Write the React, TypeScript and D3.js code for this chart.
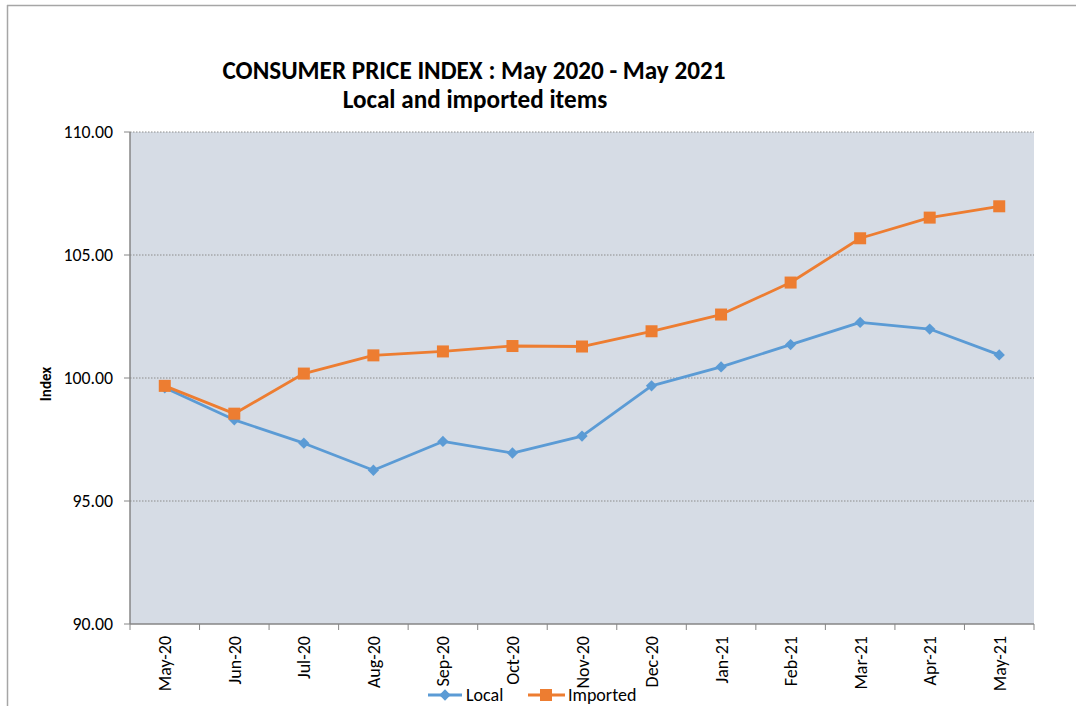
import React from "react";
import * as d3 from "d3";

const categories = ["May-20","Jun-20","Jul-20","Aug-20","Sep-20","Oct-20","Nov-20","Dec-20","Jan-21","Feb-21","Mar-21","Apr-21","May-21"];
const localValues = [99.6, 98.3, 97.35, 96.25, 97.42, 96.95, 97.64, 99.68, 100.45, 101.36, 102.26, 101.99, 100.94];
const importedValues = [99.68, 98.55, 100.18, 100.92, 101.08, 101.3, 101.28, 101.9, 102.58, 103.88, 105.68, 106.52, 106.98];
const yTicks = [90, 95, 100, 105, 110];
const titleLines = ["CONSUMER PRICE INDEX : May 2020 - May 2021", "Local and imported items"];

const W = 1076, H = 706;
const plot = { left: 130, right: 1034, top: 132, bottom: 624 };
const BLUE = "#5B9BD5", ORANGE = "#ED7D31";
const FONT = "Carlito, Calibri, 'Open Sans', Lato, sans-serif";

export default function App() {
  const x = d3.scaleBand<string>().domain(categories).range([plot.left, plot.right]);
  const y = d3.scaleLinear().domain([90, 110]).range([plot.bottom, plot.top]);
  const cx = (c: string) => (x(c) as number) + x.bandwidth() / 2;
  const line = d3.line<number>().x((_, i) => cx(categories[i])).y((v) => y(v));
  const diamond = d3.symbol().type(d3.symbolSquare).size(64)();
  const tickXs = categories.map((c) => x(c) as number).concat([plot.right]);

  return (
    <svg width={W} height={H} style={{ position: "absolute", left: 0, top: 0, background: "#fff" }} fontFamily={FONT}>
      <rect x={0} y={0} width={W} height={H} fill="#fff" />
      <line x1={7} y1={5.5} x2={W} y2={5.5} stroke="#a6a6a6" strokeWidth={1.5} />
      <line x1={7.5} y1={5} x2={7.5} y2={H} stroke="#a6a6a6" strokeWidth={1.5} />
      <text x={474} y={79} textAnchor="middle" fontSize={25.2} fontWeight="bold" fill="#000">{titleLines[0]}</text>
      <text x={475} y={108} textAnchor="middle" fontSize={25.2} fontWeight="bold" fill="#000">{titleLines[1]}</text>
      <rect x={plot.left} y={plot.top} width={plot.right - plot.left} height={plot.bottom - plot.top} fill="#D6DCE5" />
      {yTicks.filter((t) => t !== 90).map((t) => (
        <line key={t} x1={plot.left} x2={plot.right} y1={y(t)} y2={y(t)} stroke="#8c8c8c" strokeWidth={1} strokeDasharray="1.5,1.5" />
      ))}
      <line x1={plot.left} x2={plot.left} y1={plot.top} y2={plot.bottom} stroke="#868686" strokeWidth={1.5} />
      <line x1={plot.left} x2={plot.right} y1={plot.bottom} y2={plot.bottom} stroke="#868686" strokeWidth={1.5} />
      {yTicks.map((t) => (
        <g key={t}>
          <line x1={plot.left - 6} x2={plot.left} y1={y(t)} y2={y(t)} stroke="#868686" strokeWidth={1} />
          <text x={113} y={y(t) + 6} textAnchor="end" fontSize={17.8} fill="#000">{t.toFixed(2)}</text>
        </g>
      ))}
      {tickXs.map((tx, i) => (
        <line key={i} x1={tx} x2={tx} y1={plot.bottom} y2={plot.bottom + 6} stroke="#868686" strokeWidth={1} />
      ))}
      {categories.map((c) => (
        <text key={c} transform={`translate(${cx(c) + 6.5},${plot.bottom + 12}) rotate(-90)`} textAnchor="end" fontSize={18} fill="#000">{c}</text>
      ))}
      <text transform={`translate(51,${(plot.top + plot.bottom) / 2 + 6}) rotate(-90)`} textAnchor="middle" fontSize={15} fontWeight="bold" fill="#000">Index</text>
      <path d={line(localValues) || ""} fill="none" stroke={BLUE} strokeWidth={2.8} strokeLinejoin="round" />
      {localValues.map((v, i) => (
        <path key={i} d={diamond || ""} transform={`translate(${cx(categories[i])},${y(v)}) rotate(45)`} fill={BLUE} />
      ))}
      <path d={line(importedValues) || ""} fill="none" stroke={ORANGE} strokeWidth={2.8} strokeLinejoin="round" />
      {importedValues.map((v, i) => (
        <rect key={i} x={cx(categories[i]) - 6} y={y(v) - 6} width={12} height={12} fill={ORANGE} />
      ))}
      <g>
        <line x1={428} x2={462} y1={695} y2={695} stroke={BLUE} strokeWidth={2.8} />
        <path d={diamond || ""} transform="translate(445,695) rotate(45)" fill={BLUE} />
        <text x={466} y={701} fontSize={18} fill="#000">Local</text>
        <line x1={528} x2={565} y1={695} y2={695} stroke={ORANGE} strokeWidth={2.8} />
        <rect x={540} y={689} width={12} height={12} fill={ORANGE} />
        <text x={568} y={701} fontSize={18} fill="#000">Imported</text>
      </g>
    </svg>
  );
}
